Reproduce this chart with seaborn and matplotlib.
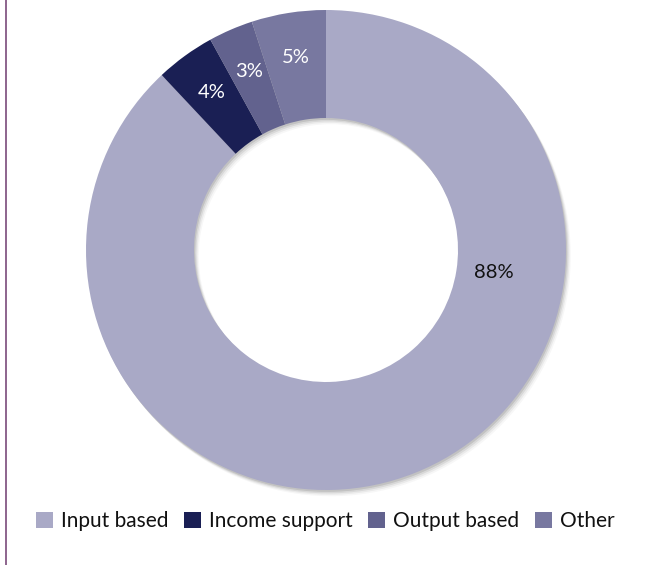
import matplotlib
matplotlib.use("Agg")
import matplotlib.pyplot as plt
from matplotlib.patches import Patch
from matplotlib.lines import Line2D
import numpy as np
import seaborn as sns

categories = ["Input based", "Income support", "Output based", "Other"]
shares = [88, 4, 3, 5]
colors = ["#a9a9c6", "#1a1f54", "#62628e", "#7878a0"]
label_colors = ["#111111", "white", "white", "white"]

sns.set_theme(style="white")
plt.rcParams["font.family"] = ["Lato", "DejaVu Sans"]

W, H = 668, 565
fig = plt.figure(figsize=(W / 100, H / 100), dpi=100)
ax = fig.add_axes([0, 0, 1, 1])

# donut geometry in pixels, converted to data units (1 unit = outer radius)
R_px, cx, cy = 240, 326, 250
ring = 0.45

# soft drop shadow beneath the ring
for dx, dy, a in [(0.005, -0.008, 0.10), (0.010, -0.014, 0.07),
                  (0.015, -0.020, 0.05), (0.020, -0.026, 0.03)]:
    ax.pie(shares, radius=1.0, center=(dx, dy), startangle=90, counterclock=False,
           colors=["#000000"] * len(shares),
           wedgeprops=dict(width=ring, alpha=a, linewidth=0))

wedges, _ = ax.pie(shares, radius=1.0, startangle=90, counterclock=False,
                   colors=colors, wedgeprops=dict(width=ring, linewidth=0))
ax.set_xlim(-cx / R_px, (W - cx) / R_px)
ax.set_ylim(-(H - cy) / R_px, cy / R_px)
ax.set_aspect("auto")
ax.axis("off")

# percentage labels: small slices at wedge midpoints, the large one on the right
cum = np.cumsum([0] + shares[:-1])
for i, (s, c0) in enumerate(zip(shares, cum)):
    if i == 0:
        x, y = 0.70, -0.095
    else:
        mid = np.deg2rad(90 - 3.6 * (c0 + s / 2))
        x, y = 0.81 * np.cos(mid), 0.81 * np.sin(mid)
    ax.text(x, y, f"{s}%", ha="center", va="center", fontsize=14.5,
            color=label_colors[i])

# left frame rule
fig.add_artist(Line2D([5.5 / W, 5.5 / W], [0, 1], transform=fig.transFigure,
                      color="#7a4a7a", linewidth=1.2))

handles = [Patch(facecolor=c, edgecolor="none") for c in colors]
leg = fig.legend(handles, categories, loc="center", bbox_to_anchor=(0.487, 0.078),
                 ncol=4, frameon=False, fontsize=15, handlelength=0.8,
                 handleheight=0.8, handletextpad=0.4, columnspacing=0.75,
                 borderpad=0)
for t in leg.get_texts():
    t.set_color("#111111")

fig.savefig("out.png", dpi=100)
